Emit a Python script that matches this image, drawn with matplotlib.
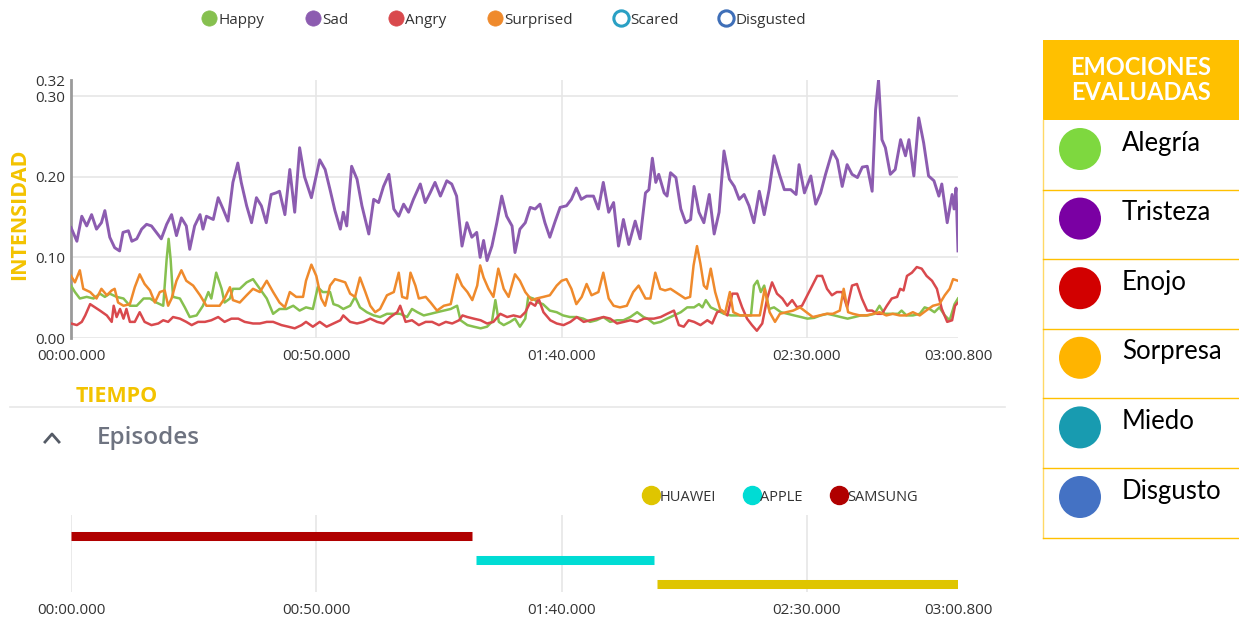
import matplotlib.pyplot as plt
from matplotlib.lines import Line2D
from matplotlib.patches import Rectangle, Circle

# emotion intensity over time (seconds)
happy_t = [0, 0.8, 1.8, 3.2, 4.6, 5.9, 6.9, 7.9, 9.3, 10.7, 12, 13.4, 14.8, 16.1, 17.4, 18.8, 19.5, 19.9, 20.3,
           20.8, 22.2, 23.2, 24.2, 25.6, 26.9, 28, 28.6, 29.6, 30.7, 31.3, 32.4, 33, 34.4, 35.8, 37.1, 38.5,
           39.9, 41.2, 42.5, 43.9, 45.3, 46.6, 47.9, 49.3, 50.3, 51.3, 52.8, 53.5, 54.5, 55.5, 56.9, 57.9,
           58.9, 60.3, 61.7, 63, 64.4, 65.8, 67.1, 68.5, 69.5, 70.6, 71.9, 73.3, 74.6, 76, 77.4, 78.7, 79.4,
           80.8, 82.1, 83.5, 84.8, 85.8, 86.5, 87.2, 88.2, 89.5, 90.5, 91.5, 92.6, 93.2, 94.2, 95.2, 96.2,
           97.6, 99, 100.3, 101.7, 103, 104.4, 105.8, 107.1, 108.5, 109.9, 111.3, 112.6, 114, 115.4, 116.7,
           117.5, 118.8, 120.2, 121.5, 122.9, 124.3, 125.6, 127, 128, 128.7, 129.4, 130.4, 131.8, 133.1,
           134.5, 135.8, 137.2, 138.6, 139.2, 139.9, 140.6, 141.3, 142.3, 143.3, 144.7, 146.1, 147.4, 148.8,
           150.1, 151.5, 152.8, 154.2, 155.6, 156.9, 158.3, 159.7, 161, 162.4, 163.8, 164.8, 165.8, 167.2,
           168.6, 169.3, 170.3, 171.6, 173, 174, 175, 176, 177, 178.1, 179.1, 180.1, 180.8]
happy_v = [0.065, 0.057, 0.049, 0.051, 0.049, 0.055, 0.051, 0.055, 0.051, 0.049, 0.040, 0.040, 0.049, 0.049,
           0.044, 0.040, 0.098, 0.123, 0.098, 0.051, 0.049, 0.038, 0.026, 0.028, 0.040, 0.057, 0.049, 0.081,
           0.061, 0.044, 0.049, 0.061, 0.061, 0.069, 0.073, 0.061, 0.049, 0.030, 0.036, 0.036, 0.040, 0.034,
           0.038, 0.036, 0.063, 0.057, 0.057, 0.042, 0.040, 0.036, 0.040, 0.051, 0.038, 0.032, 0.028, 0.026,
           0.030, 0.030, 0.030, 0.026, 0.036, 0.032, 0.028, 0.030, 0.032, 0.034, 0.036, 0.040, 0.022, 0.016,
           0.014, 0.012, 0.014, 0.020, 0.047, 0.020, 0.016, 0.020, 0.024, 0.014, 0.024, 0.051, 0.049, 0.044,
           0.042, 0.034, 0.032, 0.028, 0.026, 0.026, 0.024, 0.020, 0.022, 0.026, 0.020, 0.022, 0.022, 0.026,
           0.032, 0.026, 0.024, 0.018, 0.020, 0.024, 0.028, 0.032, 0.038, 0.038, 0.042, 0.038, 0.047, 0.038,
           0.034, 0.030, 0.028, 0.028, 0.028, 0.028, 0.065, 0.071, 0.057, 0.065, 0.036, 0.038, 0.032, 0.030,
           0.028, 0.026, 0.024, 0.025, 0.028, 0.030, 0.028, 0.026, 0.024, 0.026, 0.028, 0.028, 0.030, 0.040,
           0.030, 0.030, 0.030, 0.034, 0.028, 0.028, 0.030, 0.038, 0.036, 0.032, 0.038, 0.028, 0.022, 0.042,
           0.049]

sad_t = [0, 1.2, 2.2, 3.2, 4.2, 5.2, 6.2, 6.9, 7.9, 8.9, 9.9, 10.6, 11.7, 12.4, 13.4, 14.4, 15.4, 16.4, 17.4,
         18.4, 19.5, 20.5, 21.5, 22.5, 23.5, 24.2, 25.2, 26.3, 26.9, 27.6, 29, 30, 31, 32, 33, 34, 34.7, 35.8,
         36.8, 37.8, 38.8, 39.8, 40.8, 41.8, 42.5, 43.6, 44.6, 45.6, 46.6, 47.6, 49, 50.7, 51.8, 52.8, 53.8,
         54.9, 55.5, 56.2, 57.2, 58.3, 59.3, 60.7, 61.7, 62.7, 63.7, 64.8, 65.8, 66.8, 67.8, 68.8, 69.8, 71.2,
         72.2, 73.2, 74.2, 75.3, 76.6, 77.6, 78.6, 79.7, 80.7, 81.7, 82.7, 83.4, 84.1, 84.8, 85.8, 86.8, 87.8,
         88.8, 89.9, 90.5, 91.5, 92.6, 93.6, 94.6, 95.6, 96.6, 97.6, 98.7, 99.7, 101, 102, 103, 104, 105.1,
         106.5, 107.5, 108.5, 109.6, 110.6, 111.6, 112.6, 113.7, 115, 116, 117.1, 117.8, 118.5, 119.2, 119.8,
         120.9, 121.5, 122.2, 123.3, 124.3, 125.3, 126.3, 127, 128, 129, 130.1, 131.1, 132.1, 133.1, 134.2,
         135.2, 136.2, 137.2, 138.2, 139.2, 140.3, 141.3, 142.3, 143.3, 144.4, 145.4, 146.7, 147.8, 148.4,
         149.5, 150.8, 151.8, 152.8, 153.8, 155.2, 156.2, 157.2, 158.2, 159.2, 160.3, 161.3, 162.3, 163.3,
         164, 164.6, 165.3, 166, 167, 168, 169.1, 170.1, 170.8, 171.8, 172.8, 173.8, 174.8, 175.9, 176.9,
         177.5, 178.6, 179.6, 180, 180.4, 180.8]
sad_v = [0.137, 0.120, 0.151, 0.139, 0.153, 0.135, 0.143, 0.158, 0.125, 0.112, 0.108, 0.131, 0.133, 0.120,
         0.123, 0.135, 0.141, 0.139, 0.131, 0.123, 0.141, 0.153, 0.127, 0.149, 0.139, 0.110, 0.139, 0.153,
         0.135, 0.151, 0.147, 0.174, 0.160, 0.145, 0.193, 0.217, 0.193, 0.164, 0.143, 0.174, 0.164, 0.143,
         0.178, 0.180, 0.182, 0.153, 0.209, 0.156, 0.236, 0.200, 0.174, 0.221, 0.209, 0.184, 0.158, 0.135,
         0.156, 0.139, 0.213, 0.197, 0.164, 0.129, 0.172, 0.168, 0.188, 0.203, 0.160, 0.151, 0.166, 0.156,
         0.172, 0.191, 0.168, 0.180, 0.193, 0.176, 0.195, 0.191, 0.176, 0.114, 0.143, 0.125, 0.131, 0.100,
         0.121, 0.096, 0.114, 0.143, 0.176, 0.151, 0.139, 0.106, 0.135, 0.143, 0.162, 0.160, 0.166, 0.143,
         0.125, 0.145, 0.162, 0.164, 0.172, 0.186, 0.172, 0.176, 0.176, 0.160, 0.193, 0.156, 0.168, 0.114,
         0.147, 0.116, 0.145, 0.123, 0.180, 0.184, 0.223, 0.193, 0.203, 0.180, 0.176, 0.205, 0.199, 0.160,
         0.143, 0.147, 0.188, 0.156, 0.143, 0.178, 0.129, 0.156, 0.232, 0.197, 0.188, 0.172, 0.178, 0.164,
         0.143, 0.182, 0.153, 0.184, 0.226, 0.203, 0.184, 0.184, 0.178, 0.215, 0.180, 0.201, 0.166, 0.180,
         0.203, 0.232, 0.221, 0.188, 0.215, 0.203, 0.199, 0.212, 0.213, 0.182, 0.283, 0.320, 0.246, 0.236,
         0.203, 0.209, 0.246, 0.226, 0.246, 0.201, 0.273, 0.242, 0.201, 0.195, 0.176, 0.191, 0.143, 0.178,
         0.160, 0.186, 0.108]

angry_t = [0, 1.2, 2.2, 2.9, 3.9, 4.9, 5.9, 7.3, 8.3, 8.7, 9.3, 10, 10.7, 11.3, 12, 13, 14, 15, 16.4, 17.8,
           18.8, 19.8, 20.8, 22.2, 23.5, 24.6, 25.9, 27.3, 28.6, 30, 31.3, 32.7, 34.1, 35.4, 37.1, 38.5, 39.9,
           41.2, 42.9, 44.3, 45.6, 47, 47.9, 49.3, 50.7, 52.1, 53.5, 54.9, 55.5, 56.9, 58.3, 59.6, 61, 62.4,
           63.7, 65.1, 66.5, 67.1, 68.2, 69.5, 70.9, 72.3, 73.6, 75, 76.4, 77.7, 79.1, 79.8, 80.8, 82.1, 83.5,
           84.8, 86.1, 87.5, 88.9, 90.2, 91.6, 92.6, 93.6, 94.6, 95.3, 96.3, 97.7, 99, 100.4, 101.8, 103.1,
           104.5, 105.8, 107.2, 108.6, 109.9, 111.3, 112.7, 114, 115.4, 116.8, 117.5, 118.8, 120.2, 121.5,
           122.9, 123.9, 124.9, 125.9, 127, 128.3, 129.7, 130.7, 131.7, 132.7, 133.8, 134.8, 135.8, 136.8,
           137.8, 138.8, 139.8, 140.9, 141.9, 142.9, 143.9, 145, 146, 147, 148, 149, 150.1, 151.1, 152.1,
           153.1, 154.1, 155.1, 156.1, 157.2, 158.2, 159.2, 160.2, 161.2, 162.3, 163.3, 164.3, 165.3, 166.3,
           167.3, 168.4, 169, 169.7, 170.4, 171.4, 172.4, 173.4, 174.4, 175.5, 176.5, 177.5, 178.6, 179.6,
           180.2, 180.8]
angry_v = [0.018, 0.016, 0.020, 0.028, 0.042, 0.038, 0.034, 0.028, 0.020, 0.040, 0.026, 0.036, 0.024, 0.036,
           0.020, 0.020, 0.032, 0.020, 0.016, 0.018, 0.022, 0.020, 0.026, 0.024, 0.020, 0.016, 0.020, 0.020,
           0.022, 0.026, 0.020, 0.024, 0.024, 0.020, 0.018, 0.018, 0.020, 0.020, 0.016, 0.014, 0.012, 0.016,
           0.020, 0.014, 0.020, 0.014, 0.018, 0.022, 0.028, 0.020, 0.018, 0.020, 0.024, 0.020, 0.018, 0.026,
           0.032, 0.040, 0.020, 0.022, 0.016, 0.020, 0.020, 0.016, 0.020, 0.018, 0.022, 0.028, 0.026, 0.024,
           0.022, 0.018, 0.020, 0.030, 0.026, 0.028, 0.026, 0.032, 0.044, 0.040, 0.049, 0.032, 0.022, 0.018,
           0.016, 0.020, 0.026, 0.020, 0.022, 0.024, 0.026, 0.024, 0.018, 0.020, 0.022, 0.020, 0.024, 0.024,
           0.024, 0.026, 0.030, 0.034, 0.016, 0.014, 0.022, 0.020, 0.016, 0.022, 0.018, 0.032, 0.034, 0.028,
           0.055, 0.055, 0.038, 0.024, 0.016, 0.009, 0.018, 0.049, 0.069, 0.055, 0.049, 0.040, 0.047, 0.038,
           0.040, 0.053, 0.065, 0.077, 0.077, 0.061, 0.053, 0.057, 0.057, 0.038, 0.065, 0.067, 0.049, 0.034,
           0.034, 0.030, 0.030, 0.040, 0.049, 0.051, 0.061, 0.059, 0.077, 0.081, 0.088, 0.086, 0.077, 0.071,
           0.061, 0.036, 0.020, 0.022, 0.040, 0.044]

surprised_t = [0, 0.8, 1.8, 2.5, 3.9, 5.2, 6.2, 7.3, 8.3, 8.9, 9.6, 10.7, 12, 13, 14, 15, 16.1, 17.1, 18.1,
               19.1, 19.8, 20.5, 21.5, 22.5, 23.5, 24.9, 26.3, 27.6, 29, 30.3, 31.3, 32.4, 33, 34.4, 35.8,
               37.1, 38.5, 39.9, 41.2, 42.5, 43.6, 44.6, 45.9, 47.3, 47.9, 49, 50, 51, 51.8, 52.8, 53.8,
               54.9, 55.9, 56.9, 57.9, 58.9, 60, 61, 62, 63, 64.4, 65.8, 66.8, 67.5, 68.5, 69.2, 70.2, 70.9,
               72.3, 73.3, 74.6, 76, 77.4, 78.7, 79.7, 80.8, 81.8, 82.8, 83.4, 84.1, 85.1, 86.1, 87.1, 88.2,
               89.2, 90.5, 91.5, 92.6, 93.9, 94.9, 96.3, 97.6, 99, 100, 101, 102, 103, 104.1, 105.1, 106.1,
               107.5, 108.5, 109.6, 110.6, 111.9, 113.3, 114.6, 115.7, 117.1, 118.1, 119.1, 120.1, 121.1,
               122.2, 123.2, 124.2, 125.2, 126.2, 126.9, 127.6, 128.3, 129, 129.6, 130.4, 131.3, 132.3,
               133.3, 134.3, 135, 136.4, 137.7, 139.1, 140.4, 141.4, 142.4, 143.5, 144.5, 145.8, 147.2,
               148.6, 149.9, 151.2, 152.6, 154, 155.3, 156.7, 157.5, 158.4, 159.4, 160.8, 162.1, 163.5,
               164.8, 166.2, 167.5, 168.9, 170.2, 171.6, 173, 174.3, 175.7, 177, 178.1, 179.1, 179.8, 180.8]
surprised_v = [0.077, 0.069, 0.084, 0.061, 0.057, 0.049, 0.061, 0.053, 0.059, 0.061, 0.044, 0.040, 0.042,
               0.063, 0.079, 0.067, 0.059, 0.044, 0.057, 0.059, 0.040, 0.049, 0.071, 0.084, 0.071, 0.065,
               0.053, 0.040, 0.040, 0.040, 0.049, 0.063, 0.047, 0.044, 0.053, 0.061, 0.057, 0.071, 0.057,
               0.044, 0.038, 0.057, 0.051, 0.051, 0.071, 0.091, 0.077, 0.049, 0.040, 0.065, 0.073, 0.071,
               0.069, 0.055, 0.051, 0.075, 0.057, 0.040, 0.032, 0.036, 0.053, 0.057, 0.081, 0.051, 0.049,
               0.081, 0.065, 0.049, 0.051, 0.044, 0.034, 0.040, 0.042, 0.079, 0.065, 0.057, 0.047, 0.065,
               0.090, 0.075, 0.061, 0.051, 0.086, 0.061, 0.051, 0.079, 0.071, 0.057, 0.047, 0.049, 0.051,
               0.053, 0.065, 0.071, 0.073, 0.061, 0.042, 0.051, 0.067, 0.053, 0.057, 0.081, 0.049, 0.040,
               0.038, 0.040, 0.057, 0.065, 0.049, 0.049, 0.081, 0.061, 0.059, 0.061, 0.057, 0.053, 0.049,
               0.051, 0.090, 0.114, 0.092, 0.065, 0.061, 0.086, 0.057, 0.036, 0.030, 0.057, 0.032, 0.028,
               0.028, 0.028, 0.028, 0.061, 0.032, 0.020, 0.030, 0.032, 0.034, 0.038, 0.032, 0.026, 0.028,
               0.030, 0.030, 0.034, 0.061, 0.032, 0.030, 0.028, 0.028, 0.030, 0.032, 0.028, 0.030, 0.028,
               0.028, 0.032, 0.028, 0.034, 0.040, 0.042, 0.053, 0.061, 0.073, 0.071]

legend_names = ['Happy', 'Sad', 'Angry', 'Surprised', 'Scared', 'Disgusted']
legend_colors = ['#86c04f', '#8c5cb0', '#d9494d', '#ef8a2c', '#2aa0c4', '#3f6fb8']

# episodes (start, end in seconds)
episode_names = ['SAMSUNG', 'APPLE', 'HUAWEI']
episode_start = [0, 82.6, 119.4]
episode_end = [81.8, 118.8, 180.8]
episode_colors = ['#b00000', '#00dcd4', '#dfc500']

x_ticks = [0, 50, 100, 150, 180.8]
x_labels = ['00:00.000', '00:50.000', '01:40.000', '02:30.000', '03:00.800']
y_ticks = [0, 0.10, 0.20, 0.30, 0.32]
y_labels = ['0.00', '0.10', '0.20', '0.30', '0.32']

table_labels = ['Alegría', 'Tristeza', 'Enojo', 'Sorpresa', 'Miedo', 'Disgusto']
table_colors = ['#7ed83f', '#7a00a3', '#d20000', '#ffb400', '#189bb0', '#4472c4']

W, H = 1239, 618
plt.rcParams['font.family'] = ['Open Sans', 'DejaVu Sans']
fig = plt.figure(figsize=(W / 100, H / 100), dpi=100)
fig.patch.set_facecolor('white')


def box(l, t, r, b):
    return [l / W, 1 - b / H, (r - l) / W, (b - t) / H]


gold = '#f3c300'
txt = '#333333'
grid = '#e6e6e6'

# ---- emotions chart
ax = fig.add_axes(box(71, 80, 958, 338))
ax.plot(happy_t, happy_v, color=legend_colors[0], lw=1.8, zorder=3)
ax.plot(sad_t, sad_v, color=legend_colors[1], lw=2.1, zorder=3)
ax.plot(angry_t, angry_v, color=legend_colors[2], lw=1.8, zorder=4)
ax.plot(surprised_t, surprised_v, color=legend_colors[3], lw=1.8, zorder=5)
ax.set_xlim(0, 180.8)
ax.set_ylim(0, 0.32)
ax.set_xticks(x_ticks)
ax.set_xticklabels(x_labels)
ax.set_yticks(y_ticks)
ax.set_yticklabels(y_labels)
ax.tick_params(length=0, labelsize=11, colors=txt)
ax.tick_params(axis='x', pad=8)
ax.tick_params(axis='y', pad=4)
for s in ['top', 'right', 'bottom']:
    ax.spines[s].set_visible(False)
ax.spines['left'].set_color('#9a9a9a')
ax.spines['left'].set_linewidth(2)
for v in [0, 0.10, 0.20, 0.30]:
    ax.axhline(v, color=grid, lw=1.2, zorder=1)
for t in [50, 100, 150]:
    ax.axvline(t, color=grid, lw=1.2, zorder=1)

fig.text(20 / W, 1 - 214 / H, 'INTENSIDAD', rotation=90, ha='center', va='center',
         color=gold, fontsize=15.5, fontweight='bold')
fig.text(76 / W, 1 - 396 / H, 'TIEMPO', ha='left', va='center',
         color=gold, fontsize=15.5, fontweight='bold')

handles = []
for i, (n, c) in enumerate(zip(legend_names, legend_colors)):
    hollow = i >= 4
    handles.append(Line2D([], [], ls='none', marker='o', markersize=11,
                          markerfacecolor='white' if hollow else c,
                          markeredgecolor=c, markeredgewidth=2.2 if hollow else 0.5, label=n))
fig.legend(handles=handles, loc='center', bbox_to_anchor=(504 / W, 1 - 20 / H), ncol=6,
           frameon=False, fontsize=11, handletextpad=0.1, columnspacing=2.65,
           handlelength=1.0, labelcolor=txt)

# ---- episodes chart
ax2 = fig.add_axes(box(71, 515, 958, 592))
for lane, (n, s, e, c) in enumerate(zip(episode_names, episode_start, episode_end, episode_colors)):
    ax2.hlines(lane, s, e, color=c, lw=6.5, zorder=3)
ax2.set_xlim(0, 180.8)
ax2.set_ylim(2.33, -0.87)
ax2.set_yticks([])
ax2.set_xticks(x_ticks)
ax2.set_xticklabels(x_labels)
ax2.tick_params(length=0, labelsize=11, colors=txt, pad=8)
for s in ax2.spines.values():
    s.set_visible(False)
for t in [0, 50, 100, 150]:
    ax2.axvline(t, color=grid, lw=1.2, zorder=1)
ep_handles = [Line2D([], [], ls='none', marker='o', markersize=13, markerfacecolor=c,
                     markeredgecolor=c, label=n)
              for n, c in zip(episode_names[::-1], episode_colors[::-1])]
fig.legend(handles=ep_handles, loc='center', bbox_to_anchor=(781 / W, 1 - 497 / H), ncol=3,
           frameon=False, fontsize=10.5, handletextpad=0.05, columnspacing=2.0,
           handlelength=1.0, labelcolor=txt)

# ---- page decorations and side table
ov = fig.add_axes([0, 0, 1, 1], zorder=-1)
ov.set_xlim(0, W)
ov.set_ylim(H, 0)
ov.axis('off')
ov.plot([10, 1005], [407, 407], color='#e8e8e8', lw=1.2)
ov.plot([45, 52, 59], [442, 434, 442], color='#555b66', lw=2)
ov.text(97, 438, 'Episodes', ha='left', va='center', fontsize=17.5, color='#6e7380',
        fontweight='semibold')

tab = fig.add_axes([0, 0, 1, 1], zorder=5)
tab.set_xlim(0, W)
tab.set_ylim(H, 0)
tab.axis('off')
tab.add_patch(Rectangle((1043, 40), W - 1043, 80, facecolor='#ffc000', edgecolor='none'))
tab.text(1141, 80, 'EMOCIONES\nEVALUADAS', ha='center', va='center', color='white',
         fontsize=17, fontweight='bold', family=['Lato', 'DejaVu Sans'], linespacing=1.1)
row_h = 69.6
tab.plot([1043, 1043], [120, 538], color='#ffd966', lw=1)
for i, (lab, c) in enumerate(zip(table_labels, table_colors)):
    top = 120 + i * row_h
    tab.plot([1043, W], [top + row_h, top + row_h], color='#ffc000', lw=1)
    tab.add_patch(Circle((1080, top + 29), 21, facecolor=c, edgecolor='none'))
    tab.text(1122, top + 23, lab, ha='left', va='center', fontsize=18.5, color='black',
             family=['Lato', 'DejaVu Sans'])

fig.savefig('out.png', dpi=100)
